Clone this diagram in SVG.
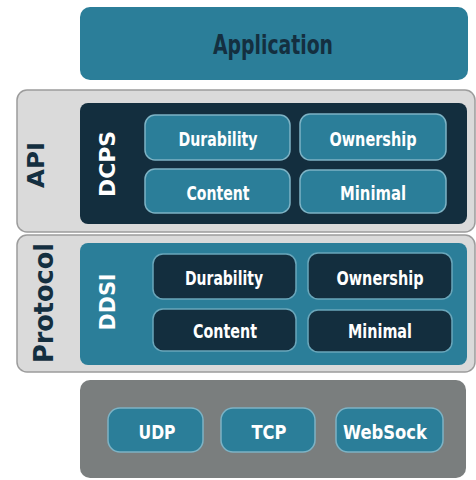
<svg xmlns="http://www.w3.org/2000/svg" width="476" height="480" viewBox="0 0 476 480">
<style>
text{font-family:"DejaVu Sans Condensed","DejaVu Sans",sans-serif;font-weight:bold;text-anchor:middle;}
.teal{fill:#2b7e99;}
.navy{fill:#132e3e;}
.outer{fill:#dadada;stroke:#9c9c9c;stroke-width:1.5;}
.chipT{fill:#2b7e99;stroke:#7db3c5;stroke-width:1.5;}
.chipN{fill:#132e3e;stroke:#6aa6ba;stroke-width:1.5;}
.w{fill:#ffffff;font-size:20px;}
.d{fill:#142f40;}
</style>
<rect width="476" height="480" fill="#ffffff"/>
<g id="application">
<rect class="teal" x="80" y="7" width="388" height="73" rx="10"/>
<text class="d" x="273" y="54" font-size="27" textLength="120" lengthAdjust="spacingAndGlyphs">Application</text>
</g>
<g id="api">
<rect class="outer" x="17" y="90" width="458" height="142" rx="10"/>
<text class="d" transform="translate(44,165) rotate(-90)" font-size="23" textLength="46" lengthAdjust="spacingAndGlyphs">API</text>
<rect class="navy" x="80" y="103" width="387" height="121" rx="8"/>
<text class="w" transform="translate(115,164) rotate(-90)" style="font-size:22px" textLength="66" lengthAdjust="spacingAndGlyphs">DCPS</text>
</g>
<g id="dcps-durability"><rect class="chipT" x="145" y="115" width="145" height="45" rx="10"/><text class="w" x="218" y="146" textLength="79" lengthAdjust="spacingAndGlyphs">Durability</text></g>
<g id="dcps-ownership"><rect class="chipT" x="300" y="114" width="146" height="46" rx="10"/><text class="w" x="373" y="146" textLength="87" lengthAdjust="spacingAndGlyphs">Ownership</text></g>
<g id="dcps-content"><rect class="chipT" x="145" y="169" width="145" height="44" rx="10"/><text class="w" x="218" y="200" textLength="63" lengthAdjust="spacingAndGlyphs">Content</text></g>
<g id="dcps-minimal"><rect class="chipT" x="300" y="170" width="146" height="43" rx="10"/><text class="w" x="373" y="200" textLength="66" lengthAdjust="spacingAndGlyphs">Minimal</text></g>
<g id="protocol">
<rect class="outer" x="17" y="235" width="458" height="137" rx="10"/>
<text class="d" transform="translate(53,303) rotate(-90)" font-size="27" textLength="120" lengthAdjust="spacingAndGlyphs">Protocol</text>
<rect class="teal" x="80" y="243" width="387" height="122" rx="8"/>
<text class="w" transform="translate(115,302) rotate(-90)" style="font-size:21px" textLength="57" lengthAdjust="spacingAndGlyphs">DDSI</text>
</g>
<g id="ddsi-durability"><rect class="chipN" x="153" y="254" width="143" height="45" rx="10"/><text class="w" x="224" y="285" textLength="78" lengthAdjust="spacingAndGlyphs">Durability</text></g>
<g id="ddsi-ownership"><rect class="chipN" x="308" y="253" width="144" height="46" rx="10"/><text class="w" x="380" y="285" textLength="87" lengthAdjust="spacingAndGlyphs">Ownership</text></g>
<g id="ddsi-content"><rect class="chipN" x="153" y="309" width="143" height="42" rx="10"/><text class="w" x="225" y="338" textLength="64" lengthAdjust="spacingAndGlyphs">Content</text></g>
<g id="ddsi-minimal"><rect class="chipN" x="308" y="310" width="144" height="42" rx="10"/><text class="w" x="380" y="338" textLength="64" lengthAdjust="spacingAndGlyphs">Minimal</text></g>
<g id="transport">
<rect x="80" y="380" width="386" height="98" rx="10" fill="#7a7e7e"/>
</g>
<g id="udp"><rect class="chipT" x="108" y="408" width="95" height="44" rx="12"/><text class="w" x="157" y="439" textLength="37" lengthAdjust="spacingAndGlyphs">UDP</text></g>
<g id="tcp"><rect class="chipT" x="221" y="408" width="94" height="44" rx="12"/><text class="w" x="269" y="439" textLength="35" lengthAdjust="spacingAndGlyphs">TCP</text></g>
<g id="websock"><rect class="chipT" x="336" y="408" width="107" height="44" rx="12"/><text class="w" x="385" y="439" textLength="84" lengthAdjust="spacingAndGlyphs">WebSock</text></g>
<g id="connectors"></g>
</svg>
